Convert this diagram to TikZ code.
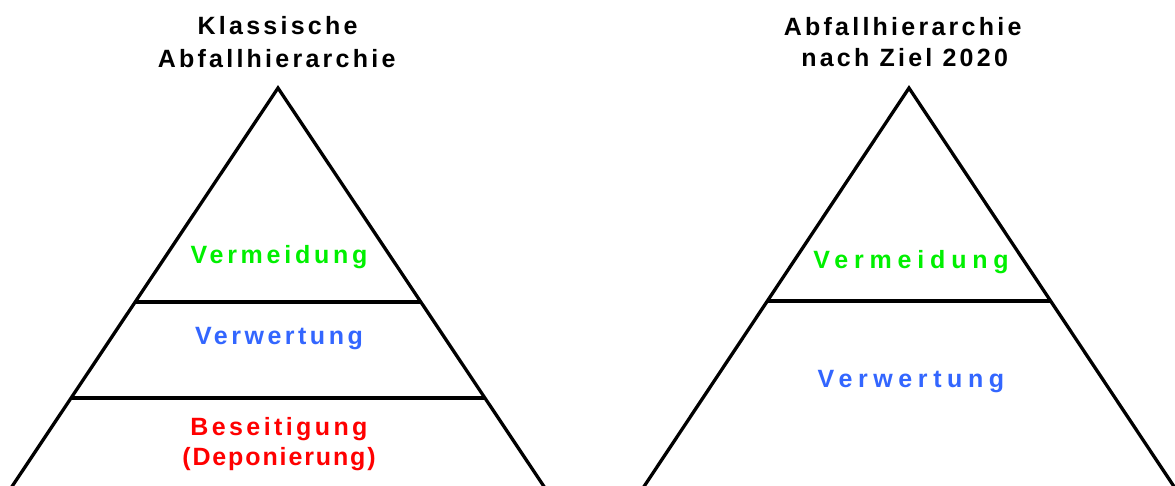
\documentclass[tikz,border=0pt]{standalone}
\usepackage{fontspec}
\setmainfont{Liberation Sans}
\usetikzlibrary{calc}
\definecolor{vgreen}{RGB}{0,240,0}
\definecolor{vblue}{RGB}{51,102,255}
\definecolor{vred}{RGB}{255,0,0}
\tikzset{
  ttl/.style={anchor=base,inner sep=0pt,xshift=1.6pt,font=\fontsize{25}{25}\selectfont\bfseries\addfontfeatures{LetterSpace=13}},
  lab/.style 2 args={anchor=base,inner sep=0pt,xshift=2pt,text=#1,font=\fontsize{25}{25}\selectfont\bfseries\addfontfeatures{LetterSpace=#2}},
  side/.style={line width=3.3pt,line join=miter},
  tier/.style={line width=3.2pt}
}
\begin{document}
\begin{tikzpicture}[x=1pt,y=-1pt]
\useasboundingbox (0,0) rectangle (1175,485);
\begin{scope}
\clip (0,0) rectangle (1175,485);
% left triangle
\coordinate (LA) at (278,88);
\coordinate (LL) at (13,485);
\coordinate (LR) at (543,485);
\draw[side] ($(LA)!1.05!(LL)$) -- (LA) -- ($(LA)!1.05!(LR)$);
\coordinate (L1a) at ($(LA)!0.539!(LL)$);
\coordinate (L1b) at ($(LA)!0.539!(LR)$);
\coordinate (L2a) at ($(LA)!0.781!(LL)$);
\coordinate (L2b) at ($(LA)!0.781!(LR)$);
\draw[tier] (L1a) -- (L1b);
\draw[tier] (L2a) -- (L2b);
% right triangle
\coordinate (RA) at (909,88);
\coordinate (RL) at (645,485);
\coordinate (RR) at (1173,485);
\draw[side] ($(RA)!1.05!(RL)$) -- (RA) -- ($(RA)!1.05!(RR)$);
\coordinate (R1a) at ($(RA)!0.5365!(RL)$);
\coordinate (R1b) at ($(RA)!0.5365!(RR)$);
\draw[tier] (R1a) -- (R1b);
\end{scope}
% titles
\node[ttl] (t1a) at (276,34) {Klassische};
\node[ttl] (t1b) at (275,67) {Abfallhierarchie};
\node[ttl] (t2a) at (901,35) {Abfallhierarchie};
\node[ttl] (t2b) at (903,66) {nach Ziel 2020};
% left labels
\node[lab={vgreen}{15}] (lv) at (277,263) {Vermeidung};
\node[lab={vblue}{14}] (lw) at (277,344) {Verwertung};
\node[lab={vred}{13.6}] (lb) at (277,435) {Beseitigung};
\node[lab={vred}{7.5}] (ld) at (277,465) {(Deponierung)};
% right labels
\node[lab={vgreen}{23.3},xshift=1pt] (rv) at (908,268) {Vermeidung};
\node[lab={vblue}{22.4},xshift=1pt] (rw) at (908,387) {Verwertung};
\end{tikzpicture}
\end{document}
